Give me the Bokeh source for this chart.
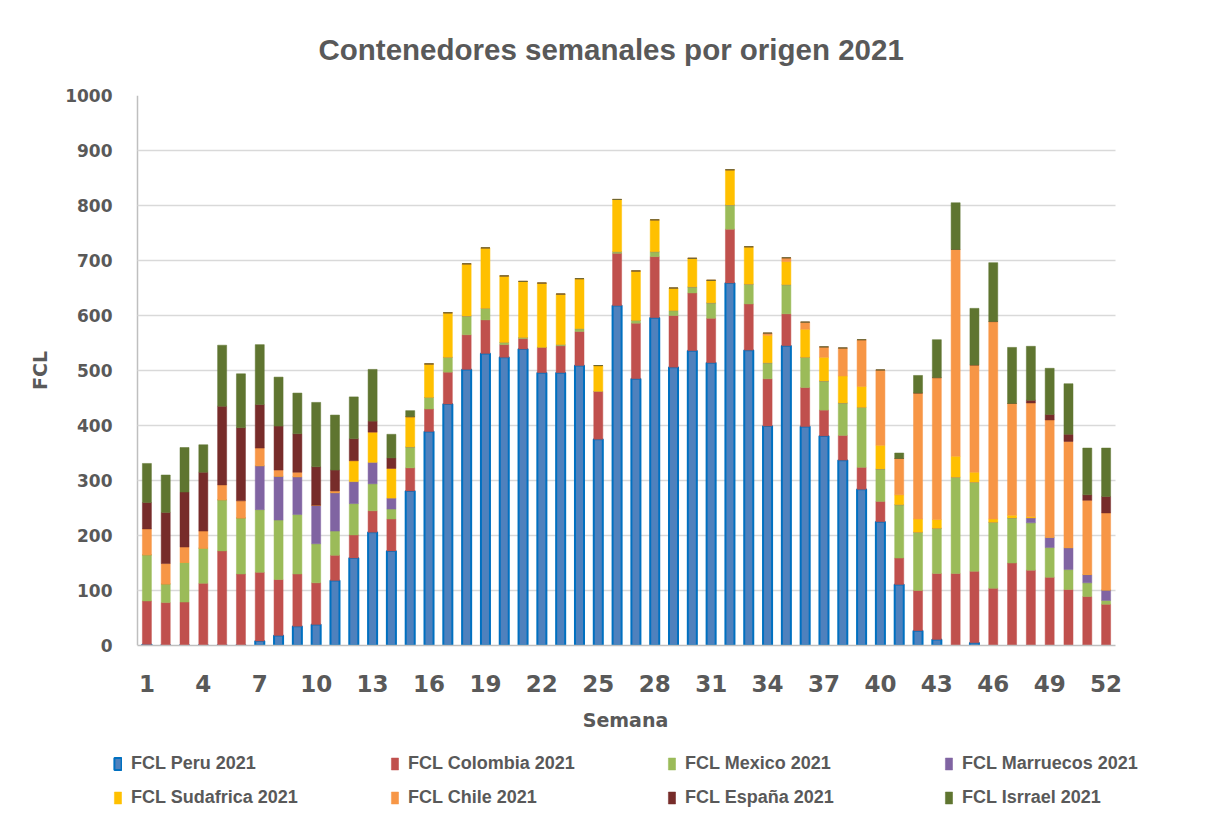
from bokeh.plotting import figure
from bokeh.layouts import column
from bokeh.models import Legend, LegendItem, FixedTicker, Range1d, ColumnDataSource
from bokeh.embed import file_html
from bokeh.resources import INLINE

weeks = list(range(1, 53))

peru = [2, 1, 1, 1, 1, 1, 8, 18, 35, 38, 118, 159, 206, 172, 281, 389, 439, 502, 531, 524,
        539, 496, 496, 509, 375, 618, 485, 596, 506, 536, 514, 659, 537, 399, 545, 398, 381, 337,
        284, 225, 111, 27, 11, 0, 5, 0, 0, 0, 0, 0, 0, 0]
colombia = [79, 77, 78, 112, 171, 129, 125, 102, 95, 76, 46, 42, 39, 58, 42, 41, 58, 63, 61, 23,
            19, 46, 49, 62, 87, 95, 101, 111, 94, 105, 81, 98, 84, 86, 58, 71, 47, 45,
            40, 37, 48, 73, 120, 131, 130, 104, 150, 137, 124, 102, 89, 75]
mexico = [84, 34, 72, 64, 93, 102, 114, 108, 108, 71, 44, 57, 49, 18, 38, 21, 27, 34, 21, 4,
          2, 0, 2, 5, 0, 3, 5, 9, 9, 11, 28, 44, 36, 29, 53, 55, 53, 59,
          109, 59, 97, 106, 82, 175, 162, 120, 82, 86, 54, 36, 25, 7]
marruecos = [0, 0, 0, 0, 0, 0, 80, 80, 69, 70, 70, 40, 39, 20, 0, 0, 0, 0, 0, 0,
             0, 0, 0, 0, 0, 0, 0, 0, 0, 0, 0, 0, 0, 0, 0, 0, 0, 0,
             0, 0, 0, 0, 0, 0, 0, 0, 0, 9, 19, 40, 15, 19]
sudafrica = [0, 0, 0, 0, 0, 0, 0, 0, 0, 0, 0, 38, 55, 54, 55, 61, 81, 95, 110, 121,
             102, 117, 92, 91, 47, 95, 90, 58, 41, 52, 41, 64, 68, 50, 42, 51, 43, 49,
             38, 43, 18, 24, 16, 38, 18, 6, 5, 2, 0, 0, 0, 0]
chile = [47, 37, 28, 31, 27, 31, 32, 11, 8, 0, 3, 0, 0, 0, 0, 0, 0, 0, 0, 0,
         0, 0, 0, 0, 0, 0, 0, 0, 0, 0, 0, 0, 0, 4, 7, 13, 19, 51,
         85, 137, 66, 229, 258, 376, 195, 359, 203, 207, 213, 193, 135, 140]
espana = [48, 93, 100, 107, 143, 133, 79, 80, 70, 70, 38, 40, 20, 19, 0, 0, 0, 0, 0, 0,
          0, 0, 0, 0, 0, 0, 0, 0, 0, 0, 0, 0, 0, 0, 0, 0, 0, 0,
          0, 0, 0, 0, 0, 0, 0, 0, 0, 5, 10, 13, 10, 30]
israel = [71, 68, 81, 50, 111, 98, 109, 89, 74, 117, 100, 76, 94, 43, 11, 0, 0, 0, 0, 0,
          0, 0, 0, 0, 0, 0, 0, 0, 0, 0, 0, 0, 0, 0, 0, 0, 0, 0,
          0, 0, 10, 32, 69, 85, 103, 107, 102, 98, 84, 92, 85, 88]

labels = ["FCL Peru 2021", "FCL Colombia 2021", "FCL Mexico 2021", "FCL Marruecos 2021",
          "FCL Sudafrica 2021", "FCL Chile 2021", "FCL España 2021", "FCL Isrrael 2021"]
keys = ["peru", "colombia", "mexico", "marruecos", "sudafrica", "chile", "espana", "israel"]
colors = ["#4F81BD", "#C0504D", "#9BBB59", "#8064A2", "#FFC000", "#F79646", "#772C2A", "#5F7530"]
line_colors = ["#0070C0"] + colors[1:]
line_widths = [2, 0.5, 0.5, 0.5, 0.5, 0.5, 0.5, 0.5]
x_ticks = list(range(1, 53, 3))

source = ColumnDataSource(dict(week=weeks, peru=peru, colombia=colombia, mexico=mexico,
                               marruecos=marruecos, sudafrica=sudafrica, chile=chile,
                               espana=espana, israel=israel))

GREY = "#595959"
W = 1208
H_MAIN = 745
H_LEG = 75
# frame is widened so the legend strip (aligned to it) can hold the full legend width;
# the category area itself spans 0.5 .. 52.5
FL, FR = 112, 1138          # frame left/right in px
AL, AR = 137, 1115          # where 0.5 and 52.5 must fall
ppu = (AR - AL) / 52.0
x_start = 0.5 - (AL - FL) / ppu
x_end = 52.5 + (FR - AR) / ppu

p = figure(width=W, height=H_MAIN, output_backend="svg", toolbar_location=None,
           x_range=Range1d(x_start, x_end), y_range=Range1d(0, 1000),
           min_border_left=FL, min_border_right=W - FR, min_border_top=95,
           min_border_bottom=H_MAIN - 645,
           title="Contenedores semanales por origen 2021")
p.outline_line_color = None
p.background_fill_color = "white"
p.border_fill_color = "white"

p.title.align = "left"
p.title.offset = 318 - FL
p.title.text_font = "Liberation Sans"
p.title.text_font_style = "bold"
p.title.text_font_size = "29.5px"
p.title.text_color = GREY
p.title.standoff = 59

renderers = p.vbar_stack(keys, x="week", width=0.48, source=source,
                         fill_color=colors, line_color=line_colors, line_width=line_widths)

# vertical axis line at the start of the category area
p.xgrid.ticker = FixedTicker(ticks=[0.5])
p.xgrid.grid_line_color = "#bfbfbf"
p.xgrid.grid_line_width = 1.5
p.ygrid.grid_line_color = "#d9d9d9"
p.ygrid.grid_line_width = 1.5
if "cross_bounds" in p.ygrid[0].properties():
    p.ygrid.cross_bounds = (0.5, 52.5)

p.yaxis.ticker = FixedTicker(ticks=list(range(0, 1001, 100)))
p.xaxis.ticker = FixedTicker(ticks=x_ticks)
p.xaxis.bounds = (0.5, 52.5)
for ax in (p.xaxis[0], p.yaxis[0]):
    ax.axis_line_color = "#bfbfbf"
    ax.axis_line_width = 1.5
    ax.major_tick_line_color = None
    ax.minor_tick_line_color = None
    ax.major_label_text_font = "DejaVu Sans"
    ax.major_label_text_font_style = "bold"
    ax.major_label_text_color = GREY
    ax.axis_label_text_font = "DejaVu Sans"
    ax.axis_label_text_font_style = "bold"
    ax.axis_label_text_color = GREY

p.yaxis.axis_line_color = None
p.yaxis.major_label_text_font_size = "17px"
p.yaxis.major_label_standoff = -6
p.yaxis.axis_label = "FCL"
p.yaxis.axis_label_text_font_size = "19px"
p.yaxis.axis_label_standoff = 11

p.xaxis.major_label_text_font_size = "23px"
p.xaxis.major_label_standoff = 23
p.xaxis.axis_label = "Semana"
p.xaxis.axis_label_text_font_size = "19px"
p.xaxis.axis_label_standoff = 14

# Legend strip: same series, hidden renderers, so the legend swatches use the glyphs
lg = figure(width=W, height=H_LEG, output_backend="svg", toolbar_location=None,
            x_range=Range1d(x_start, x_end), y_range=Range1d(0, 1000),
            min_border_left=FL, min_border_right=W - FR, min_border_top=0, min_border_bottom=0)
lg.axis.visible = False
lg.grid.grid_line_color = None
lg.outline_line_color = None
lg.background_fill_color = "white"
lg.border_fill_color = "white"
leg_renderers = lg.vbar_stack(keys, x="week", width=0.48, source=source,
                              fill_color=colors, line_color=line_colors, line_width=line_widths)
for r in leg_renderers:
    r.visible = False


def make_legend(idx, y):
    items = [LegendItem(label=labels[i], renderers=[leg_renderers[i]]) for i in idx]
    return Legend(items=items, orientation="horizontal", location=(113 - FL, y),
                  glyph_width=9, glyph_height=15, label_standoff=9, label_width=176,
                  label_height=20, spacing=83, padding=0, margin=0,
                  border_line_color=None, background_fill_alpha=0,
                  inactive_fill_alpha=0,
                  label_text_font="Liberation Sans", label_text_font_style="bold",
                  label_text_font_size="18px", label_text_color=GREY)


lg.add_layout(make_legend([0, 1, 2, 3], 46))
lg.add_layout(make_legend([4, 5, 6, 7], 12))

layout = column(p, lg, spacing=0)
open("out.html", "w").write(file_html(layout, INLINE))
